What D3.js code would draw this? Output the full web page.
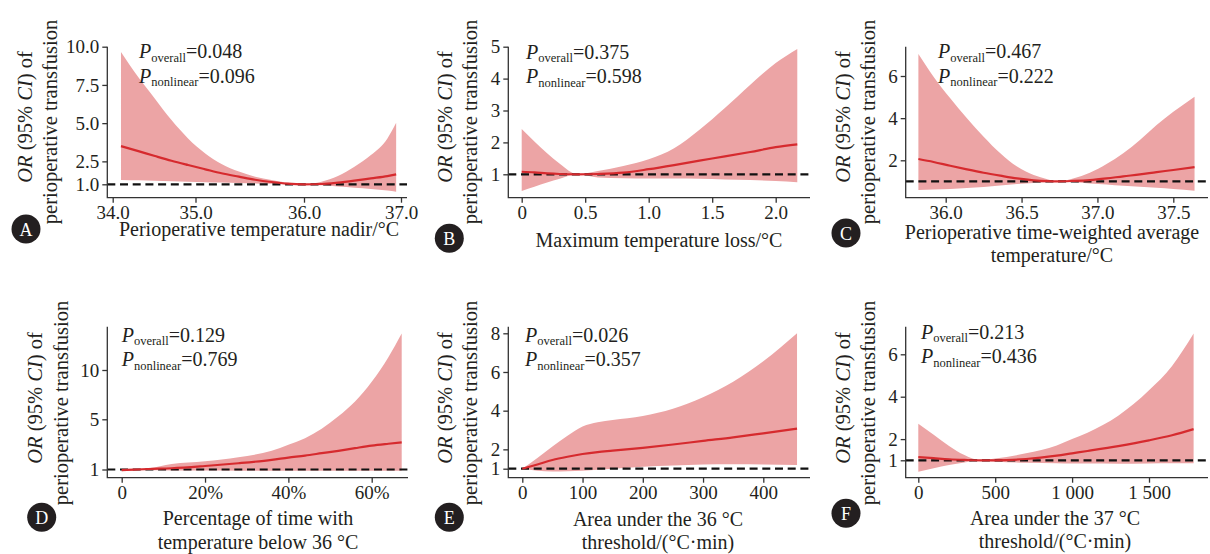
<!DOCTYPE html>
<html>
<head>
<meta charset="utf-8">
<script src="https://cdn.jsdelivr.net/npm/d3@7"></script>
<style>
body { margin: 0; background: #fff; }
svg text { font-family: "Liberation Serif", "DejaVu Serif", serif; fill: #231f20; }
</style>
</head>
<body>
<svg id="fig" width="1210" height="554"></svg>
<script>
// A: perioperative temperature nadir
const aTemp = [34.1, 34.31, 34.51, 34.71, 34.91, 35.09, 35.24, 35.4, 35.55, 35.7, 35.85, 36.0, 36.18, 36.35, 36.52, 36.69, 36.86, 36.95]
const aOR   = [3.5, 3.17, 2.85, 2.54, 2.26, 1.98, 1.72, 1.5, 1.3, 1.15, 1.04, 1.0, 1.02, 1.11, 1.24, 1.39, 1.54, 1.65]
const aLow  = [1.28, 1.26, 1.23, 1.2, 1.17, 1.14, 1.12, 1.08, 1.05, 1.03, 1.01, 1.0, 0.93, 0.85, 0.78, 0.7, 0.6, 0.52]
const aHigh = [9.65, 8.0, 6.6, 5.2, 4.0, 3.02, 2.33, 1.83, 1.5, 1.28, 1.1, 1.0, 1.17, 1.54, 2.15, 2.91, 4.0, 5.02]

// B: maximum temperature loss
const bLoss = [0, 0.1, 0.2, 0.3, 0.44, 0.6, 0.8, 1.0, 1.2, 1.4, 1.6, 1.8, 2.0, 2.17]
const bOR   = [1.08, 1.06, 1.03, 1.01, 1.0, 1.01, 1.05, 1.16, 1.29, 1.43, 1.56, 1.7, 1.85, 1.94]
const bLow  = [0.48, 0.61, 0.74, 0.86, 1.0, 0.9, 0.88, 0.87, 0.87, 0.86, 0.84, 0.82, 0.79, 0.75]
const bHigh = [2.42, 2.03, 1.66, 1.33, 1.0, 1.1, 1.26, 1.47, 1.82, 2.4, 3.08, 3.81, 4.49, 4.93]

// C: time-weighted average temperature
const cTwa  = [35.82, 35.92, 36.03, 36.14, 36.25, 36.36, 36.47, 36.58, 36.67, 36.74, 36.84, 36.95, 37.06, 37.17, 37.28, 37.39, 37.5, 37.64]
const cOR   = [2.06, 1.92, 1.74, 1.57, 1.41, 1.27, 1.14, 1.05, 1.01, 1.0, 1.02, 1.06, 1.14, 1.24, 1.33, 1.44, 1.54, 1.68]
const cLow  = [0.59, 0.61, 0.64, 0.68, 0.73, 0.8, 0.87, 0.92, 0.96, 1.0, 0.96, 0.9, 0.85, 0.79, 0.75, 0.7, 0.64, 0.56]
const cHigh = [7.04, 5.97, 4.94, 3.99, 3.12, 2.33, 1.7, 1.3, 1.1, 1.0, 1.14, 1.41, 1.82, 2.33, 2.96, 3.67, 4.3, 5.02]

// D: percentage of time below 36 °C
const dPct  = [0, 3, 6.4, 12, 20, 28, 36, 40, 44, 48, 52, 56, 60, 64, 67.2]
const dOR   = [0.95, 0.99, 1.04, 1.1, 1.28, 1.5, 1.77, 1.95, 2.11, 2.3, 2.49, 2.7, 2.9, 3.05, 3.16]
const dLow  = [0.87, 0.95, 0.95, 0.93, 0.92, 0.91, 0.9, 0.9, 0.9, 0.9, 0.9, 0.9, 0.9, 0.9, 0.9]
const dHigh = [1.05, 1.03, 1.1, 1.44, 1.66, 1.98, 2.5, 2.98, 3.5, 4.25, 5.3, 6.8, 8.8, 11.3, 13.7]

// E: area under 36 °C
const eArea = [0, 25, 50, 75, 100, 125, 150, 200, 250, 300, 350, 400, 456]
const eOR   = [1.0, 1.22, 1.45, 1.62, 1.76, 1.86, 1.93, 2.08, 2.25, 2.44, 2.62, 2.83, 3.07]
const eLow  = [1.0, 0.9, 0.86, 0.87, 0.9, 0.95, 1.0, 1.1, 1.17, 1.22, 1.23, 1.22, 1.19]
const eHigh = [1.0, 1.55, 2.15, 2.7, 3.18, 3.4, 3.52, 3.73, 4.1, 4.7, 5.5, 6.55, 8.0]

// F: area under 37 °C
const fArea = [0, 100, 200, 300, 405, 500, 700, 900, 1000, 1100, 1300, 1500, 1650, 1790]
const fOR   = [1.15, 1.1, 1.05, 1.02, 1.0, 1.0, 1.06, 1.22, 1.33, 1.44, 1.67, 1.94, 2.18, 2.47]
const fLow  = [0.46, 0.63, 0.78, 0.9, 1.0, 0.94, 0.88, 0.86, 0.85, 0.85, 0.84, 0.85, 0.86, 0.86]
const fHigh = [2.72, 2.2, 1.68, 1.25, 1.0, 1.08, 1.33, 1.7, 2.0, 2.3, 3.1, 4.3, 5.45, 6.98]

// ticks
const aXTicks = [34, 35, 36, 37], aXLabels = ["34.0", "35.0", "36.0", "37.0"]
const aYTicks = [1, 2.5, 5, 7.5, 10], aYLabels = ["1.0", "2.5", "5.0", "7.5", "10.0"]
const bXTicks = [0, 0.5, 1, 1.5, 2], bXLabels = ["0", "0.5", "1.0", "1.5", "2.0"]
const bYTicks = [1, 2, 3, 4, 5], bYLabels = ["1", "2", "3", "4", "5"]
const cXTicks = [36, 36.5, 37, 37.5], cXLabels = ["36.0", "36.5", "37.0", "37.5"]
const cYTicks = [2, 4, 6], cYLabels = ["2", "4", "6"]
const dXTicks = [0, 20, 40, 60], dXLabels = ["0", "20%", "40%", "60%"]
const dYTicks = [1, 5, 10], dYLabels = ["1", "5", "10"]
const eXTicks = [0, 100, 200, 300, 400], eXLabels = ["0", "100", "200", "300", "400"]
const eYTicks = [1, 2, 4, 6, 8], eYLabels = ["1", "2", "4", "6", "8"]
const fXTicks = [0, 500, 1000, 1500], fXLabels = ["0", "500", "1 000", "1 500"]
const fYTicks = [1, 2, 4, 6], fYLabels = ["1", "2", "4", "6"]

// p values
const pOverall   = ["0.048", "0.375", "0.467", "0.129", "0.026", "0.213"]
const pNonlinear = ["0.096", "0.598", "0.222", "0.769", "0.357", "0.436"]

const xTitles = [
    ["Perioperative temperature nadir/°C"],
    ["Maximum temperature loss/°C"],
    ["Perioperative time-weighted average", "temperature/°C"],
    ["Percentage of time with", "temperature below 36 °C"],
    ["Area under the 36 °C", "threshold/(°C·min)"],
    ["Area under the 37 °C", "threshold/(°C·min)"]
]

const panels = [
    {id: "A", x: aTemp, fit: aOR, lo: aLow, hi: aHigh, xt: aXTicks, xl: aXLabels, yt: aYTicks, yl: aYLabels},
    {id: "B", x: bLoss, fit: bOR, lo: bLow, hi: bHigh, xt: bXTicks, xl: bXLabels, yt: bYTicks, yl: bYLabels},
    {id: "C", x: cTwa,  fit: cOR, lo: cLow, hi: cHigh, xt: cXTicks, xl: cXLabels, yt: cYTicks, yl: cYLabels},
    {id: "D", x: dPct,  fit: dOR, lo: dLow, hi: dHigh, xt: dXTicks, xl: dXLabels, yt: dYTicks, yl: dYLabels},
    {id: "E", x: eArea, fit: eOR, lo: eLow, hi: eHigh, xt: eXTicks, xl: eXLabels, yt: eYTicks, yl: eYLabels},
    {id: "F", x: fArea, fit: fOR, lo: fLow, hi: fHigh, xt: fXTicks, xl: fXLabels, yt: fYTicks, yl: fYLabels}
]

// layout (A's x axis is unevenly spaced in the original)
const layout = [
    {left: 107.3, right: 407, top: 46.7, bottom: 197.7, xd: [34, 35, 36, 37], xr: [112.7, 195.5, 304, 401], yd: [1, 10], yr: [184.3, 46.7],
     p: [139, 58.3], yTitle: [32, 57, 119], xTitle: [259, 235], badge: [26, 229]},
    {left: 508.3, right: 810, top: 46.7, bottom: 197.7, xd: [0, 2], xr: [521.7, 775.7], yd: [1, 5], yr: [174.3, 46.7],
     p: [526, 58.5], yTitle: [452, 476.7, 119], xTitle: [659, 245.5], badge: [449.3, 238.3]},
    {left: 905.7, right: 1208, top: 46.7, bottom: 197.7, xd: [36, 37.5], xr: [945.7, 1173.3], yd: [2, 6], yr: [160.3, 76],
     p: [938, 58.3], yTitle: [850, 875, 119], xTitle: [1052, 237.5], badge: [846, 233]},
    {left: 107.3, right: 408, top: 326.7, bottom: 477.7, xd: [0, 60], xr: [121.7, 371.7], yd: [1, 5, 10], yr: [469.5, 419.3, 370],
     p: [121.7, 341.7], yTitle: [42.3, 67.7, 400], xTitle: [258, 524], badge: [41.7, 517.3]},
    {left: 508.3, right: 810, top: 326.7, bottom: 477.7, xd: [0, 400], xr: [522.3, 763.3], yd: [1, 8], yr: [468.7, 333.3],
     p: [525, 341.5], yTitle: [451.7, 476.7, 400], xTitle: [658, 524.5], badge: [449.3, 517.3]},
    {left: 905.7, right: 1208, top: 326.7, bottom: 477.7, xd: [0, 1500], xr: [918.3, 1149], yd: [1, 6], yr: [460.3, 354.3],
     p: [921, 338.5], yTitle: [850, 875, 400], xTitle: [1055, 523.5], badge: [846, 513.3]}
]

const bandColor = "#eca4a5"
const lineColor = "#d62a2e"
const axisColor = "#333"

const svg = d3.select("#fig")

panels.forEach((d, i) => {
    const L = layout[i]
    const x = d3.scaleLinear().domain(L.xd).range(L.xr)
    const y = d3.scaleLinear().domain(L.yd).range(L.yr)
    const rows = d.x.map((v, k) => ({x: v, fit: d.fit[k], lo: d.lo[k], hi: d.hi[k]}))
    const g = svg.append("g")

    // confidence band
    g.append("path")
        .datum(rows)
        .attr("fill", bandColor)
        .attr("d", d3.area().curve(d3.curveMonotoneX)
            .x(r => x(r.x)).y0(r => y(r.lo)).y1(r => y(r.hi)))

    // OR = 1 reference
    g.append("line")
        .attr("x1", L.left).attr("x2", L.right)
        .attr("y1", y(1)).attr("y2", y(1))
        .attr("stroke", "#111").attr("stroke-width", 2.2)
        .attr("stroke-dasharray", "8,4.7")

    // fitted curve
    g.append("path")
        .datum(rows)
        .attr("fill", "none")
        .attr("stroke", lineColor)
        .attr("stroke-width", 2.2)
        .attr("d", d3.line().curve(d3.curveMonotoneX).x(r => x(r.x)).y(r => y(r.fit)))

    // axes
    const xa = g.append("g").attr("transform", `translate(0,${L.bottom})`)
        .call(d3.axisBottom(x).tickValues(d.xt).tickFormat((v, k) => d.xl[k]).tickSize(5).tickPadding(3))
    const ya = g.append("g").attr("transform", `translate(${L.left},0)`)
        .call(d3.axisLeft(y).tickValues(d.yt).tickFormat((v, k) => d.yl[k]).tickSize(5).tickPadding(3))
    ;[xa, ya].forEach(a => {
        a.select(".domain").remove()
        a.selectAll("line").attr("stroke", axisColor).attr("stroke-width", 1.3)
        a.selectAll("text").attr("font-size", 19).attr("font-family", null).attr("fill", null)
    })
    g.append("path")
        .attr("d", `M${L.left},${L.top}V${L.bottom}H${L.right}`)
        .attr("fill", "none").attr("stroke", axisColor).attr("stroke-width", 1.3)

    // P annotations
    const pText = [["overall", pOverall[i]], ["nonlinear", pNonlinear[i]]]
    pText.forEach((p, k) => {
        const t = g.append("text").attr("x", L.p[0]).attr("y", L.p[1] + k * 24.5).attr("font-size", 20)
        t.append("tspan").attr("font-style", "italic").text("P")
        t.append("tspan").attr("font-size", 12.5).attr("dy", 3.5).text(p[0])
        t.append("tspan").attr("dy", -3.5).text("=" + p[1])
    })

    // y title
    const yt = g.append("g").attr("font-size", 20.5)
    const t1 = yt.append("text").attr("text-anchor", "middle")
        .attr("transform", `translate(${L.yTitle[0]},${L.yTitle[2] - 2}) rotate(-90)`)
    t1.append("tspan").attr("font-style", "italic").text("OR")
    t1.append("tspan").text(" (95% ")
    t1.append("tspan").attr("font-style", "italic").text("CI")
    t1.append("tspan").text(") of")
    yt.append("text").attr("text-anchor", "middle")
        .attr("transform", `translate(${L.yTitle[1]},${L.yTitle[2] + 3}) rotate(-90)`)
        .text("perioperative transfusion")

    // x title
    xTitles[i].forEach((s, k) => {
        g.append("text").attr("text-anchor", "middle").attr("font-size", 20)
            .attr("x", L.xTitle[0]).attr("y", L.xTitle[1] + 1 + k * 23.5)
            .text(s)
    })

    // panel badge
    g.append("circle").attr("cx", L.badge[0]).attr("cy", L.badge[1]).attr("r", 14.5).attr("fill", "#231f20")
    g.append("text").attr("x", L.badge[0]).attr("y", L.badge[1] + 6.5)
        .attr("text-anchor", "middle").attr("font-size", 18).style("fill", "#fff")
        .text(d.id)
})
</script>
</body>
</html>
